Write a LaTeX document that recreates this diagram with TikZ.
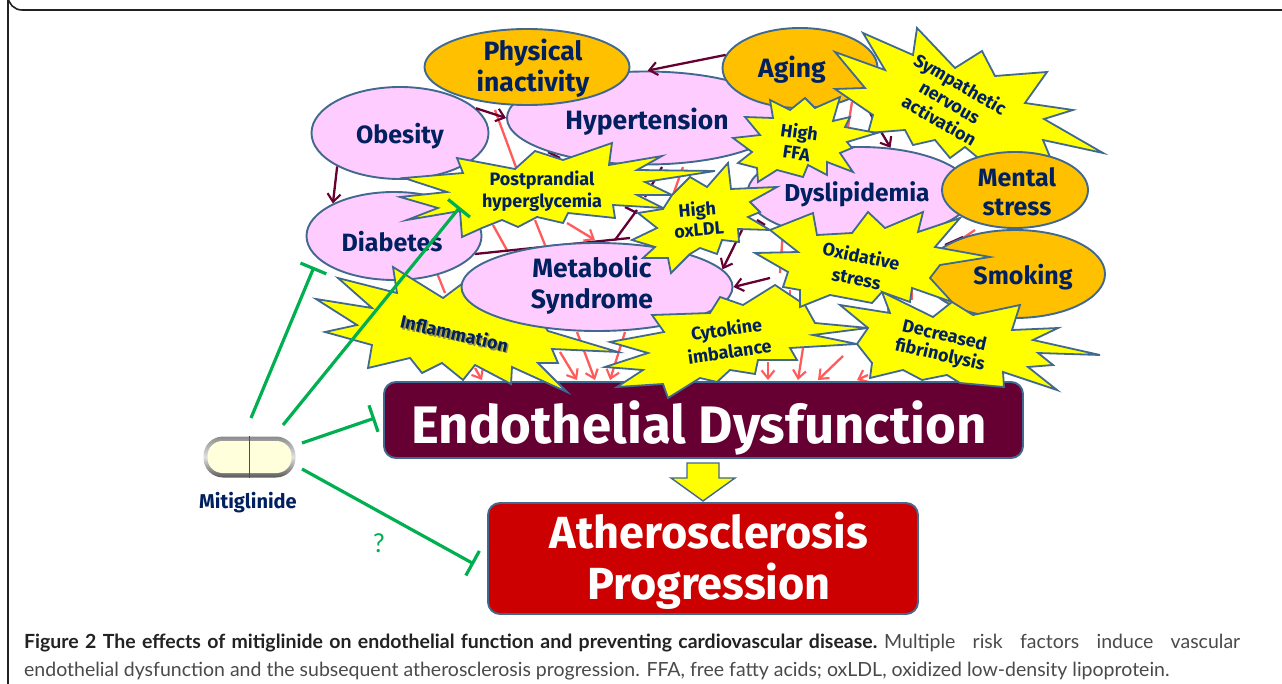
\documentclass[tikz,border=0pt]{standalone}
\usepackage{fontspec}
\usetikzlibrary{shapes.geometric,arrows.meta}
\setmainfont{Fira Sans}
\newfontfamily\capfont{Lato}
\definecolor{edgeblue}{HTML}{41688F}
\definecolor{navy}{HTML}{002060}
\definecolor{pinkf}{HTML}{FFCCFF}
\definecolor{orangef}{HTML}{FFC000}
\definecolor{redl}{HTML}{FF5B5B}
\definecolor{wine}{HTML}{660033}
\definecolor{greenl}{HTML}{00B050}
\definecolor{brightyellow}{HTML}{FFFF00}
\definecolor{cardred}{HTML}{CC0000}
\definecolor{pillcream}{HTML}{FFFFDC}
\definecolor{capdark}{HTML}{222222}
\definecolor{capgrey}{HTML}{4A4A4A}
\newcommand\fsz[1]{\fontsize{#1}{#1}\selectfont}
\newcommand\conn[4]{\coordinate (#2a) at (#3);\coordinate (#2b) at (#4);\draw[#1] (#2a) -- (#2b);}
\tikzset{
 blob/.style={ellipse,draw=edgeblue,line width=1.9pt,inner sep=0pt},
 pinkblob/.style={blob,fill=pinkf},
 orangeblob/.style={blob,fill=orangef},
 burst/.style={draw=edgeblue,line width=1.8pt,fill=brightyellow,line join=miter,miter limit=10},
 lab/.style={text=navy,font=\bfseries,align=center,inner sep=0pt},
 redline/.style={draw=redl,line width=2.3pt},
 redarrow/.style={redline,-{Straight Barb[length=8pt,width=13pt,line width=2.1pt]}},
 wineline/.style={draw=wine,line width=2.3pt},
 winearrow/.style={wineline,-{Straight Barb[length=8pt,width=13pt,line width=2.1pt]}},
 inhibit/.style={draw=greenl,line width=3.2pt,-{Bar[width=28pt,line width=3.2pt]}},
 capline/.style={anchor=base west,inner sep=0pt,text=capgrey,font=\capfont\fsz{19.5}},
 bigbox/.style={draw=edgeblue,line width=1.9pt,rounded corners=12pt,inner sep=0pt}
}
\begin{document}
\begin{tikzpicture}[x=1pt,y=-1pt]
\useasboundingbox (0,0) rectangle (1282,684);
\fill[white] (0,0) rectangle (1282,684);
\draw[capdark,line width=1.6pt] (1282,10) -- (22,10) arc[start angle=90,end angle=180,radius=14] -- (8,684);
% ---- red connectors
\conn{redline}{ra}{495,110}{517,170}
\conn{redline}{rb}{493,225}{508,252}
\conn{redline}{rc}{535,220}{545,245}
\conn{redarrow}{rd}{567,223}{595,240}
\conn{redline}{re}{437,273}{445,293}
\conn{redarrow}{rf}{577,332}{595,380}
\conn{redarrow}{rg}{560,352}{577,380}
\conn{redarrow}{rh}{625,332}{610,380}
\conn{redarrow}{ri}{475,368}{482,380}
\conn{redarrow}{rj}{768,362}{768,380}
\conn{redarrow}{rk}{803,348}{798,380}
\conn{redarrow}{rl}{843,356}{818,380}
\conn{redarrow}{rm}{868,375}{857,380}
\conn{redline}{rn}{852,102}{848,127}
\conn{redline}{ro}{683,167}{673,195}
\conn{redline}{rp}{783,230}{780,273}
\conn{redline}{rq}{790,290}{790,305}
\conn{redline}{rr}{975,230}{963,238}
\conn{redline}{rs}{912,285}{912,300}
\conn{redline}{rt}{888,305}{888,316}
% ---- wine connectors
\conn{wineline}{wa}{475,254}{630,238}
\conn{wineline}{wb}{615,240}{637,210}
\conn{wineline}{wc}{625,207}{637,213}
\conn{wineline}{wd}{548,152}{560,158}
\conn{wineline}{we}{662,167}{645,197}
\conn{wineline}{wf}{757,220}{765,225}
\conn{wineline}{wg}{945,245}{963,237}
% ---- risk factor ellipses
\node[pinkblob,minimum width=177pt,minimum height=92pt] (obesity) at (400,133) {};
\node[pinkblob,minimum width=278pt,minimum height=93pt] (hyper) at (646,118) {};
\node[orangeblob,minimum width=205pt,minimum height=76pt] (physical) at (527,67) {};
\node[orangeblob,minimum width=155pt,minimum height=80pt] (aging) at (800,68) {};
\node[pinkblob,minimum width=225pt,minimum height=92pt] (dyslip) at (860,193) {};
\node[pinkblob,minimum width=175pt,minimum height=88pt] (diabetes) at (394,236) {};
\node[orangeblob,minimum width=180pt,minimum height=88pt] (smoking) at (1015,274) {};
\draw[winearrow] (aging.170) -- (hyper.88);
\draw[winearrow] (obesity.18) -- (hyper.180);
\draw[winearrow] (obesity.208) -- (diabetes.152);
\coordinate (symfoot) at (870,113);
\draw[winearrow] (symfoot) -- (dyslip.56);
% ---- boxes
\node[bigbox,fill=wine,minimum width=639pt,minimum height=76pt] (endo) at (703.5,420) {};
\node[bigbox,fill=cardred,minimum width=430pt,minimum height=111pt] (athero) at (703,558.5) {};
% ---- inflammation and metabolic
\draw[burst] (393,267)--(443,298)--(467,280)--(540,320)--(548,331)--(618,352)--(552,349)--(558,363)--(538,363)--(567,392)--(512,367)--(511,384)--(475,365)--(463,380)--(442,363)--(422,373)--(410,358)--(368,368)--(372,345)--(325,332)--(357,325)--(316,299)--(372,308)--(338,278)--(397,293)--cycle;
\node[pinkblob,minimum width=271pt,minimum height=88pt] (metabolic) at (597,287) {};
\coordinate (oxfoot) at (742,230);
\draw[winearrow] (oxfoot) -- (metabolic.8);
\coordinate (oxifoot) at (770,278);
\draw[winearrow] (oxifoot) -- (metabolic.0);
% ---- bursts
\draw[burst] (404,178)--(463,173)--(457,158)--(515,169)--(535,151)--(563,160)--(612,143)--(609,165)--(662,156)--(637,170)--(715,171)--(645,182)--(672,195)--(637,195)--(663,208)--(613,205)--(615,218)--(568,213)--(563,223)--(537,217)--(518,227)--(502,220)--(482,228)--(462,237)--(460,211)--(407,220)--(438,208)--(400,197)--(447,192)--cycle;
\draw[burst] (835,52)--(885,70)--(863,33)--(913,55)--(917,28)--(955,68)--(982,51)--(995,76)--(1047,72)--(1025,103)--(1073,110)--(1044,119)--(1103,153)--(1043,140)--(1050,157)--(1000,165)--(977,157)--(965,147)--(950,158)--(935,140)--(913,145)--(905,130)--(868,133)--(873,115)--(835,89)--(865,88)--cycle;
\draw[burst] (733,138)--(760,135)--(745,117)--(773,118)--(770,100)--(790,110)--(805,98)--(815,108)--(840,97)--(833,121)--(850,117)--(845,127)--(877,133)--(847,142)--(852,148)--(840,153)--(853,172)--(827,162)--(827,175)--(808,165)--(803,177)--(777,170)--(758,182)--(757,168)--(738,163)--(752,152)--cycle;
\node[orangeblob,minimum width=146pt,minimum height=76pt] (mental) at (1015,190) {};
\draw[burst] (610,342)--(664,332)--(652,315)--(710,313)--(720,297)--(743,305)--(775,285)--(805,305)--(815,323)--(868,328)--(813,335)--(857,344)--(790,348)--(797,360)--(758,360)--(755,374)--(730,370)--(717,382)--(700,378)--(668,398)--(663,384)--(617,387)--(643,370)--(605,367)--(648,353)--cycle;
\draw[burst] (690,177)--(707,187)--(728,163)--(731,189)--(777,187)--(750,202)--(760,212)--(748,217)--(770,230)--(738,229)--(739,242)--(722,240)--(717,254)--(700,248)--(690,254)--(671,273)--(668,258)--(643,258)--(655,247)--(632,240)--(657,228)--(638,213)--(663,209)--(672,195)--cycle;
\draw[burst] (813,213)--(817,235)--(852,233)--(868,212)--(885,228)--(923,212)--(918,232)--(960,218)--(935,247)--(990,257)--(940,265)--(930,278)--(952,302)--(912,288)--(910,302)--(882,292)--(872,303)--(830,295)--(800,307)--(800,290)--(783,287)--(788,272)--(755,253)--(798,252)--(770,230)--cycle;
\draw[burst] (840,305)--(890,313)--(882,292)--(933,317)--(952,302)--(973,315)--(1020,305)--(1012,330)--(1058,328)--(1033,340)--(1100,355)--(1038,353)--(1053,365)--(1028,367)--(1057,390)--(1003,372)--(1004,387)--(960,383)--(947,375)--(922,380)--(903,370)--(870,378)--(872,363)--(857,344)--(868,328)--cycle;
% ---- labels
\node[lab,font=\bfseries\fsz{26.5}] (physicalt) at (533,68) {Physical\\[3pt]inactivity};
\node[lab,font=\bfseries\fsz{26.5}] (hypert) at (647,122) {Hypertension};
\node[lab,font=\bfseries\fsz{25}] (obesityt) at (400,136) {Obesity};
\node[lab,font=\bfseries\fsz{26.5}] (agingt) at (792,70) {Aging};
\node[lab,font=\bfseries\fsz{24.5}] (dysl) at (857,194) {Dyslipidemia};
\node[lab,font=\bfseries\fsz{25}] (mentalt) at (1017,192) {Mental\\[4pt]stress};
\node[lab,font=\bfseries\fsz{25}] (smokingt) at (1023,277) {Smoking};
\node[lab,font=\bfseries\fsz{25}] (diabetest) at (392,242) {Diabetes};
\node[lab,font=\bfseries\fsz{26.5}] (metabolict) at (592,285) {Metabolic\\[4pt]Syndrome};
\node[lab,font=\bfseries\fsz{18}] (postt) at (542,191) {Postprandial\\[2pt]hyperglycemia};
\node[lab,font=\bfseries\fsz{18},rotate=-8] (ffat) at (798,142) {High\\[3pt]FFA};
\node[lab,font=\bfseries\fsz{18},rotate=5] (oxldlt) at (698,219) {High\\[2pt]oxLDL};
\node[lab,font=\bfseries\fsz{18},rotate=-30] (symt) at (950,102) {Sympathetic\\[3pt]nervous\\[3pt]activation};
\node[lab,font=\bfseries\fsz{18},rotate=-12] (oxit) at (859,267) {Oxidative\\[5pt]stress};
\node[lab,font=\bfseries\fsz{18},rotate=8] (cytot) at (728,340) {Cytokine\\[3pt]imbalance};
\node[lab,font=\bfseries\fsz{18},rotate=-13] (fibt) at (942,346) {Decreased\\[2pt]fibrinolysis};
\node[lab,font=\bfseries\fsz{18},rotate=-13,text=black!45!yellow] (inflshadow) at (456,334.5) {Inflammation};
\node[lab,font=\bfseries\fsz{18},rotate=-13] (inflt) at (454.5,333) {Inflammation};
\node[lab,font=\bfseries\fsz{52.8},text=white] (endot) at (699,428) {Endothelial Dysfunction};
\node[lab,font=\bfseries\fsz{45},text=white] (atherot) at (709,561) {Atherosclerosis\\[6pt]Progression};
% ---- block arrow between the boxes
\draw[draw=edgeblue,line width=1.4pt,fill=brightyellow] (687,463)--(719,463)--(719,478)--(735,478)--(703,501)--(671,478)--(687,478)--cycle;
% ---- pill
\node[top color=black!45,bottom color=black!65,middle color=black!12,rounded corners=19.5pt,minimum width=92pt,minimum height=41pt,inner sep=0pt] (pill) at (249.5,457) {};
\node[fill=pillcream,rounded corners=15pt,minimum width=84pt,minimum height=32pt,inner sep=0pt] (pillcore) at (pill.center) {};
\draw[black!70,line width=1.8pt] (pill.north) -- (pill.south);
\node[lab,font=\bfseries\fsz{20}] (pillt) at (248,503) {Mitiglinide};
% ---- inhibition
\coordinate (pa) at (251,418); \coordinate (ta) at (314,267);
\coordinate (pb) at (283,425); \coordinate (tb) at (460,207);
\coordinate (pc) at (302,443); \coordinate (tc) at (375,418);
\coordinate (pd) at (302,469); \coordinate (td) at (474,564);
\draw[inhibit] (pa) -- (ta);
\draw[inhibit] (pb) -- (tb);
\draw[inhibit] (pc) -- (tc);
\draw[inhibit] (pd) -- (td);
\node[text=greenl,inner sep=0pt,font=\capfont\fsz{26}] (qmark) at (379,543) {?};
% ---- caption
\node[capline] (cap1) at (24,648) {\hbox to 1216pt{\hbox to 853pt{\color{capdark}\textbf{Figure 2 The effects of mitiglinide on endothelial function and preventing cardiovascular disease.}}\hskip 7pt Multiple risk factors induce vascular}};
\node[capline] (cap2) at (24,676) {endothelial dysfunction and the subsequent atherosclerosis progression. FFA, free fatty acids; oxLDL, oxidized low-density lipoprotein.};
\end{tikzpicture}
\end{document}
